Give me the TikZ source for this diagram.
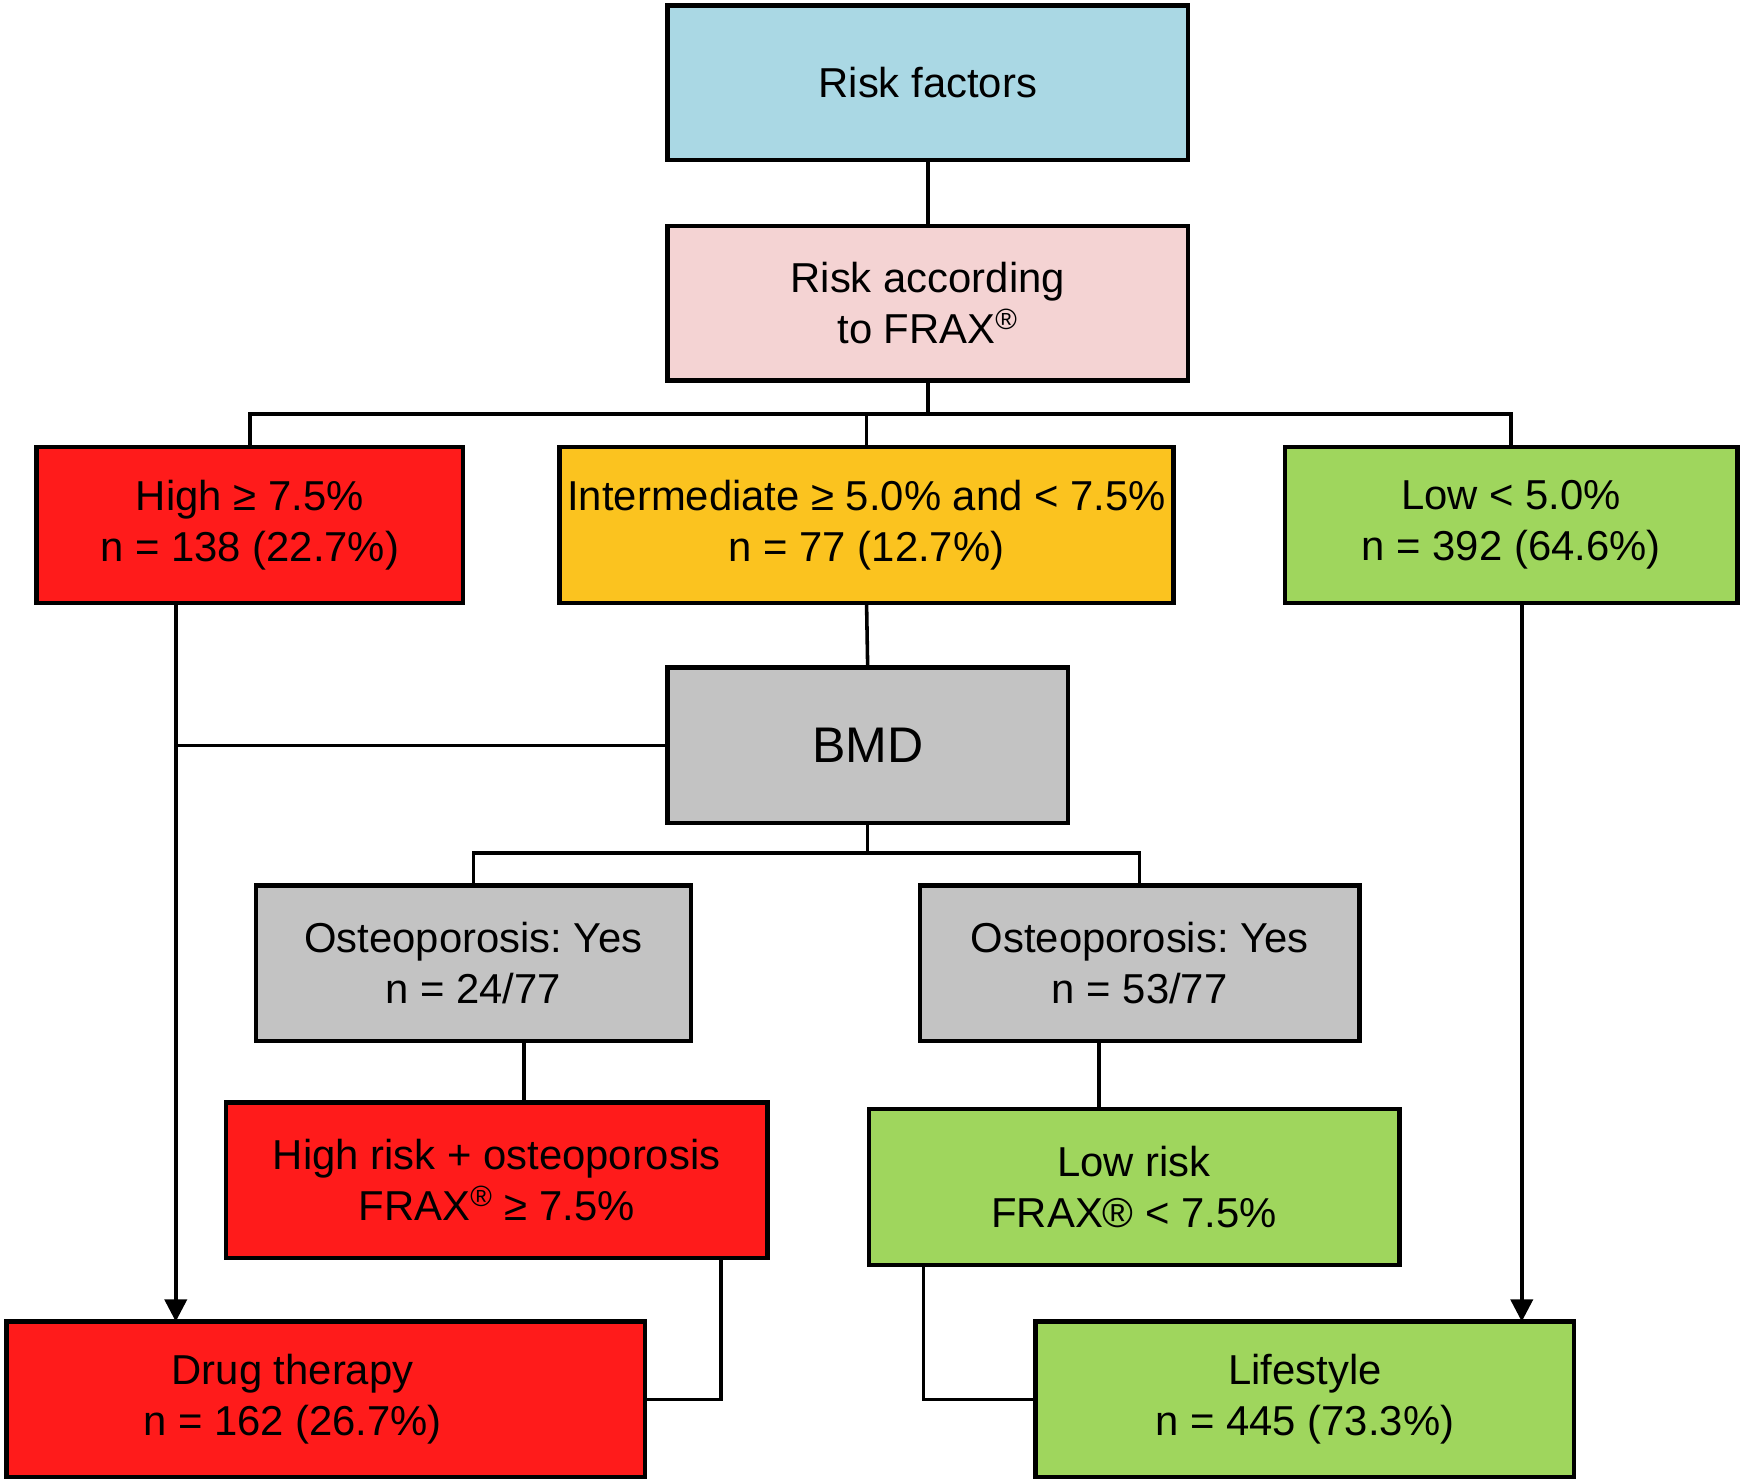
\documentclass[tikz,border=0pt]{standalone}
\usepackage{fontspec}
\setmainfont{Liberation Sans}
\usetikzlibrary{arrows.meta}
\frenchspacing
\definecolor{rfblue}{HTML}{AAD8E4}
\definecolor{fraxpink}{HTML}{F4D3D3}
\definecolor{boxred}{HTML}{FF1B1B}
\definecolor{boxorange}{HTML}{FBC31F}
\definecolor{boxgreen}{HTML}{9FD65D}
\definecolor{boxgray}{HTML}{C3C3C3}
\begin{document}
\begin{tikzpicture}[x=0.5pt,y=-0.5pt,
  box/.style={draw=black, line width=2pt, inner sep=0pt, outer sep=0pt, align=center,
    font=\fontsize{18.8}{23}\selectfont\frenchspacing},
  sz/.style 2 args={minimum width={#1*0.5pt}, minimum height={#2*0.5pt}},
  conn/.style={draw=black, line width=1.6pt},
  arr/.style={conn, -{Triangle[length=10pt,width=10pt]}}]
\useasboundingbox (0,0) rectangle (1566,1331);

\node[box, sz={468}{139}, fill=rfblue] (rf) at (834,74.5) {Risk factors};
\node[box, sz={468}{139}, fill=fraxpink] (frax) at (834,272.5) {Risk according\\to FRAX\textsuperscript{®}};
\node[box, sz={383}{140}, fill=boxred] (high) at (224.5,472) {High ≥ 7.5\%\\n = 138 (22.7\%)};
\node[box, sz={552}{140}, fill=boxorange] (inter) at (779,472) {Intermediate ≥ 5.0\% and < 7.5\%\\n = 77 (12.7\%)};
\node[box, sz={407}{140}, fill=boxgreen] (low) at (1358.5,472) {Low < 5.0\%\\n = 392 (64.6\%)};
\node[box, sz={360}{140}, fill=boxgray, font=\fontsize{22.5}{27}\selectfont] (bmd) at (780,670) {BMD};
\node[box, sz={391}{140}, fill=boxgray] (osL) at (425.5,866) {Osteoporosis: Yes\\n = 24/77};
\node[box, sz={395}{140}, fill=boxgray] (osR) at (1024.5,866) {Osteoporosis: Yes\\n = 53/77};
\node[box, sz={487}{140}, fill=boxred] (hro) at (446.5,1061) {High risk + osteoporosis\\FRAX\textsuperscript{®} ≥ 7.5\%};
\node[box, sz={477}{140}, fill=boxgreen] (lowrisk) at (1019.5,1067) {Low risk\\FRAX® < 7.5\%};
\node[box, sz={574}{140}, fill=boxred, align=none] (drug) at (293,1258)
  {\begin{tabular}{@{}c@{}}Drug therapy\\n = 162 (26.7\%)\end{tabular}\hspace*{30pt}};
\node[box, sz={484}{140}, fill=boxgreen] (life) at (1173,1258) {Lifestyle\\n = 445 (73.3\%)};

\coordinate (bus1) at (0,372);
\coordinate (bus2) at (0,767);
\coordinate (hx) at (158,0);
\coordinate (lx) at (1368,0);
\coordinate (ox) at (471,0);
\coordinate (rx) at (988,0);
\coordinate (hrx) at (648,0);
\coordinate (lrx) at (830,0);

\draw[conn] (rf.south) -- (frax.north);
\draw[conn] (frax.south) -- (frax.south |- bus1);
\draw[conn] (high.north) -- (high.north |- bus1) -- (low.north |- bus1) -- (low.north);
\draw[conn] (inter.north) -- (inter.north |- bus1);
\draw[conn] (inter.south) -- (bmd.north);
\draw[arr] (high.south -| hx) -- (drug.north -| hx);
\draw[conn] (bmd.west) -- (bmd.west -| hx);
\draw[arr] (low.south -| lx) -- (life.north -| lx);
\draw[conn] (bmd.south) -- (bmd.south |- bus2);
\draw[conn] (osL.north) -- (osL.north |- bus2) -- (osR.north |- bus2) -- (osR.north);
\draw[conn] (osL.south -| ox) -- (hro.north -| ox);
\draw[conn] (osR.south -| rx) -- (lowrisk.north -| rx);
\draw[conn] (hro.south -| hrx) |- (drug.east);
\draw[conn] (lowrisk.south -| lrx) |- (life.west);
\end{tikzpicture}
\end{document}
